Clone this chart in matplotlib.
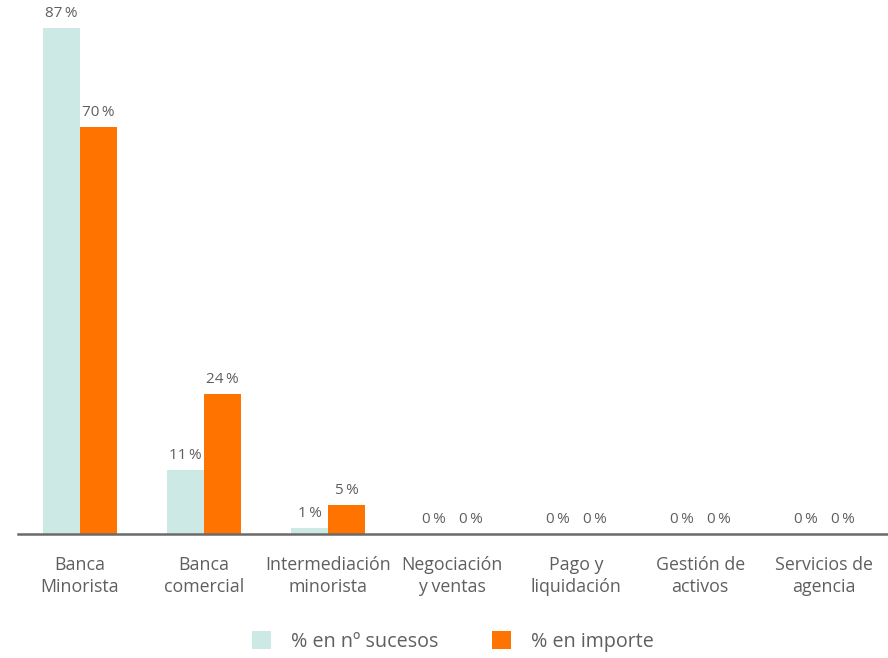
import matplotlib.pyplot as plt
import numpy as np

plt.rcParams["font.family"] = ["Open Sans", "DejaVu Sans"]

# Business lines and the two shares per line
categories = [
    "Banca\nMinorista",
    "Banca\ncomercial",
    "Intermediación\nminorista",
    "Negociación\ny ventas",
    "Pago y\nliquidación",
    "Gestión de\nactivos",
    "Servicios de\nagencia",
]
pct_sucesos = [87, 11, 1, 0, 0, 0, 0]
pct_importe = [70, 24, 5, 0, 0, 0, 0]
series_names = ["% en nº sucesos", "% en importe"]

teal = "#cde9e6"
orange = "#ff7300"
text_grey = "#5f5f5f"

fig = plt.figure(figsize=(8.88, 6.58), dpi=100)
ax = fig.add_axes([0.0203, 0.1884, 0.9797, 0.8116])

x = np.arange(len(categories))
w = 37 / 124
b1 = ax.bar(x - w / 2, pct_sucesos, w, color=teal, label=series_names[0])
b2 = ax.bar(x + w / 2, pct_importe, w, color=orange, label=series_names[1])

# value labels above each bar
for bars, vals in ((b1, pct_sucesos), (b2, pct_importe)):
    for rect, v in zip(bars, vals):
        ax.annotate(f"{v}\u2009%", (rect.get_x() + rect.get_width() / 2, v),
                    xytext=(0, 5), textcoords="offset points",
                    ha="center", va="bottom", fontsize=11, color=text_grey)

ax.set_xlim(-0.5, 6.515)
ax.set_ylim(0, 91.75)
ax.set_xticks(x, categories)
ax.tick_params(axis="x", length=0, pad=16, labelsize=12.8, labelcolor=text_grey)
ax.set_yticks([])
for s in ("top", "right", "left"):
    ax.spines[s].set_visible(False)
ax.spines["bottom"].set_color("#6a6a6a")
ax.spines["bottom"].set_linewidth(1.8)

for lbl in ax.get_xticklabels():
    lbl.set_linespacing(1.3)

fig.legend(loc="center", bbox_to_anchor=(0.51, 0.025), ncol=2, frameon=False,
           fontsize=14.2, labelcolor=text_grey, handlelength=1.0, handleheight=1.0,
           handletextpad=1.0, columnspacing=2.7)

plt.savefig("out.png", dpi=100)
